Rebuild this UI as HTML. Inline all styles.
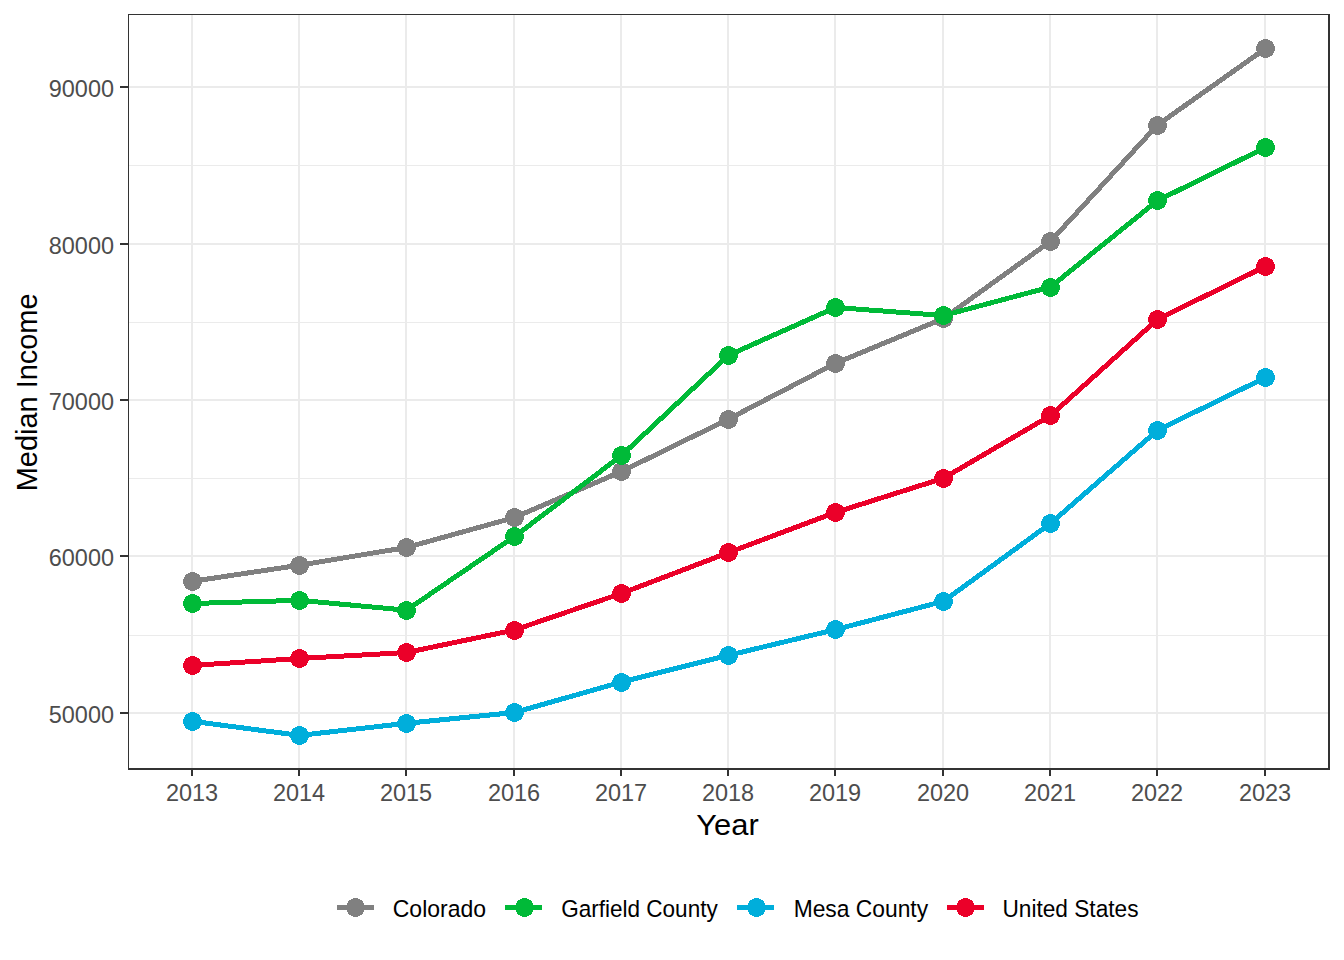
<!DOCTYPE html>
<html><head><meta charset="utf-8"><style>
html,body{margin:0;padding:0;background:#fff;overflow:hidden;width:1344px;height:960px;}
svg{display:block;}
text{font-family:"Liberation Sans",sans-serif;}
</style></head><body>
<svg width="1344" height="960" viewBox="0 0 1344 960">
<rect x="0" y="0" width="1344" height="960" fill="#fff"/>
<g shape-rendering="crispEdges"><rect x="129" y="165" width="1199" height="1" fill="#EBEBEB"/><rect x="129" y="322" width="1199" height="1" fill="#EBEBEB"/><rect x="129" y="478" width="1199" height="1" fill="#EBEBEB"/><rect x="129" y="635" width="1199" height="1" fill="#EBEBEB"/><rect x="129" y="86" width="1199" height="2" fill="#EBEBEB"/><rect x="129" y="243" width="1199" height="2" fill="#EBEBEB"/><rect x="129" y="399" width="1199" height="2" fill="#EBEBEB"/><rect x="129" y="555" width="1199" height="2" fill="#EBEBEB"/><rect x="129" y="712" width="1199" height="2" fill="#EBEBEB"/><rect x="191" y="15" width="2" height="753" fill="#EBEBEB"/><rect x="298" y="15" width="2" height="753" fill="#EBEBEB"/><rect x="405" y="15" width="2" height="753" fill="#EBEBEB"/><rect x="513" y="15" width="2" height="753" fill="#EBEBEB"/><rect x="620" y="15" width="2" height="753" fill="#EBEBEB"/><rect x="727" y="15" width="2" height="753" fill="#EBEBEB"/><rect x="834" y="15" width="2" height="753" fill="#EBEBEB"/><rect x="942" y="15" width="2" height="753" fill="#EBEBEB"/><rect x="1049" y="15" width="2" height="753" fill="#EBEBEB"/><rect x="1156" y="15" width="2" height="753" fill="#EBEBEB"/><rect x="1264" y="15" width="2" height="753" fill="#EBEBEB"/></g>
<polyline points="192.5,581.3 299.5,565.2 406.5,547.5 514.5,517.5 621.5,471.5 728.5,419.1 835.5,363.3 943.5,318.5 1050.5,241.3 1157.5,125.0 1265.5,48.5" fill="none" stroke="#808080" stroke-width="5" stroke-linejoin="round" stroke-linecap="round" shape-rendering="crispEdges"/>
<polyline points="192.5,603.5 299.5,600.3 406.5,610.2 514.5,536.5 621.5,455.5 728.5,355.3 835.5,307.5 943.5,315.5 1050.5,287.0 1157.5,200.6 1265.5,147.5" fill="none" stroke="#00BA38" stroke-width="5" stroke-linejoin="round" stroke-linecap="round" shape-rendering="crispEdges"/>
<polyline points="192.5,721.3 299.5,735.4 406.5,723.3 514.5,712.5 621.5,682.0 728.5,655.3 835.5,629.6 943.5,601.3 1050.5,523.4 1157.5,430.3 1265.5,377.5" fill="none" stroke="#00AEDB" stroke-width="5" stroke-linejoin="round" stroke-linecap="round" shape-rendering="crispEdges"/>
<polyline points="192.5,665.4 299.5,658.5 406.5,652.5 514.5,630.0 621.5,593.4 728.5,552.6 835.5,512.4 943.5,478.2 1050.5,415.6 1157.5,319.3 1265.5,266.4" fill="none" stroke="#EB0029" stroke-width="5" stroke-linejoin="round" stroke-linecap="round" shape-rendering="crispEdges"/>
<path d="M190 572h5v1h-5zM188 573h9v1h-9zM186 574h13v1h-13zM185 575h15v1h-15zM185 576h15v1h-15zM184 577h17v1h-17zM184 578h17v1h-17zM183 579h19v1h-19zM183 580h19v1h-19zM183 581h19v1h-19zM183 582h19v1h-19zM183 583h19v1h-19zM184 584h17v1h-17zM184 585h17v1h-17zM185 586h15v1h-15zM185 587h15v1h-15zM186 588h13v1h-13zM188 589h9v1h-9zM190 590h5v1h-5zM297 556h5v1h-5zM295 557h9v1h-9zM293 558h13v1h-13zM292 559h15v1h-15zM292 560h15v1h-15zM291 561h17v1h-17zM291 562h17v1h-17zM290 563h19v1h-19zM290 564h19v1h-19zM290 565h19v1h-19zM290 566h19v1h-19zM290 567h19v1h-19zM291 568h17v1h-17zM291 569h17v1h-17zM292 570h15v1h-15zM292 571h15v1h-15zM293 572h13v1h-13zM295 573h9v1h-9zM297 574h5v1h-5zM404 538h5v1h-5zM402 539h9v1h-9zM400 540h13v1h-13zM399 541h15v1h-15zM399 542h15v1h-15zM398 543h17v1h-17zM398 544h17v1h-17zM397 545h19v1h-19zM397 546h19v1h-19zM397 547h19v1h-19zM397 548h19v1h-19zM397 549h19v1h-19zM398 550h17v1h-17zM398 551h17v1h-17zM399 552h15v1h-15zM399 553h15v1h-15zM400 554h13v1h-13zM402 555h9v1h-9zM404 556h5v1h-5zM512 508h5v1h-5zM510 509h9v1h-9zM508 510h13v1h-13zM507 511h15v1h-15zM507 512h15v1h-15zM506 513h17v1h-17zM506 514h17v1h-17zM505 515h19v1h-19zM505 516h19v1h-19zM505 517h19v1h-19zM505 518h19v1h-19zM505 519h19v1h-19zM506 520h17v1h-17zM506 521h17v1h-17zM507 522h15v1h-15zM507 523h15v1h-15zM508 524h13v1h-13zM510 525h9v1h-9zM512 526h5v1h-5zM619 462h5v1h-5zM617 463h9v1h-9zM615 464h13v1h-13zM614 465h15v1h-15zM614 466h15v1h-15zM613 467h17v1h-17zM613 468h17v1h-17zM612 469h19v1h-19zM612 470h19v1h-19zM612 471h19v1h-19zM612 472h19v1h-19zM612 473h19v1h-19zM613 474h17v1h-17zM613 475h17v1h-17zM614 476h15v1h-15zM614 477h15v1h-15zM615 478h13v1h-13zM617 479h9v1h-9zM619 480h5v1h-5zM726 410h5v1h-5zM724 411h9v1h-9zM722 412h13v1h-13zM721 413h15v1h-15zM721 414h15v1h-15zM720 415h17v1h-17zM720 416h17v1h-17zM719 417h19v1h-19zM719 418h19v1h-19zM719 419h19v1h-19zM719 420h19v1h-19zM719 421h19v1h-19zM720 422h17v1h-17zM720 423h17v1h-17zM721 424h15v1h-15zM721 425h15v1h-15zM722 426h13v1h-13zM724 427h9v1h-9zM726 428h5v1h-5zM833 354h5v1h-5zM831 355h9v1h-9zM829 356h13v1h-13zM828 357h15v1h-15zM828 358h15v1h-15zM827 359h17v1h-17zM827 360h17v1h-17zM826 361h19v1h-19zM826 362h19v1h-19zM826 363h19v1h-19zM826 364h19v1h-19zM826 365h19v1h-19zM827 366h17v1h-17zM827 367h17v1h-17zM828 368h15v1h-15zM828 369h15v1h-15zM829 370h13v1h-13zM831 371h9v1h-9zM833 372h5v1h-5zM941 309h5v1h-5zM939 310h9v1h-9zM937 311h13v1h-13zM936 312h15v1h-15zM936 313h15v1h-15zM935 314h17v1h-17zM935 315h17v1h-17zM934 316h19v1h-19zM934 317h19v1h-19zM934 318h19v1h-19zM934 319h19v1h-19zM934 320h19v1h-19zM935 321h17v1h-17zM935 322h17v1h-17zM936 323h15v1h-15zM936 324h15v1h-15zM937 325h13v1h-13zM939 326h9v1h-9zM941 327h5v1h-5zM1048 232h5v1h-5zM1046 233h9v1h-9zM1044 234h13v1h-13zM1043 235h15v1h-15zM1043 236h15v1h-15zM1042 237h17v1h-17zM1042 238h17v1h-17zM1041 239h19v1h-19zM1041 240h19v1h-19zM1041 241h19v1h-19zM1041 242h19v1h-19zM1041 243h19v1h-19zM1042 244h17v1h-17zM1042 245h17v1h-17zM1043 246h15v1h-15zM1043 247h15v1h-15zM1044 248h13v1h-13zM1046 249h9v1h-9zM1048 250h5v1h-5zM1155 116h5v1h-5zM1153 117h9v1h-9zM1151 118h13v1h-13zM1150 119h15v1h-15zM1150 120h15v1h-15zM1149 121h17v1h-17zM1149 122h17v1h-17zM1148 123h19v1h-19zM1148 124h19v1h-19zM1148 125h19v1h-19zM1148 126h19v1h-19zM1148 127h19v1h-19zM1149 128h17v1h-17zM1149 129h17v1h-17zM1150 130h15v1h-15zM1150 131h15v1h-15zM1151 132h13v1h-13zM1153 133h9v1h-9zM1155 134h5v1h-5zM1263 39h5v1h-5zM1261 40h9v1h-9zM1259 41h13v1h-13zM1258 42h15v1h-15zM1258 43h15v1h-15zM1257 44h17v1h-17zM1257 45h17v1h-17zM1256 46h19v1h-19zM1256 47h19v1h-19zM1256 48h19v1h-19zM1256 49h19v1h-19zM1256 50h19v1h-19zM1257 51h17v1h-17zM1257 52h17v1h-17zM1258 53h15v1h-15zM1258 54h15v1h-15zM1259 55h13v1h-13zM1261 56h9v1h-9zM1263 57h5v1h-5z" fill="#808080" shape-rendering="crispEdges"/>
<path d="M190 594h5v1h-5zM188 595h9v1h-9zM186 596h13v1h-13zM185 597h15v1h-15zM185 598h15v1h-15zM184 599h17v1h-17zM184 600h17v1h-17zM183 601h19v1h-19zM183 602h19v1h-19zM183 603h19v1h-19zM183 604h19v1h-19zM183 605h19v1h-19zM184 606h17v1h-17zM184 607h17v1h-17zM185 608h15v1h-15zM185 609h15v1h-15zM186 610h13v1h-13zM188 611h9v1h-9zM190 612h5v1h-5zM297 591h5v1h-5zM295 592h9v1h-9zM293 593h13v1h-13zM292 594h15v1h-15zM292 595h15v1h-15zM291 596h17v1h-17zM291 597h17v1h-17zM290 598h19v1h-19zM290 599h19v1h-19zM290 600h19v1h-19zM290 601h19v1h-19zM290 602h19v1h-19zM291 603h17v1h-17zM291 604h17v1h-17zM292 605h15v1h-15zM292 606h15v1h-15zM293 607h13v1h-13zM295 608h9v1h-9zM297 609h5v1h-5zM404 601h5v1h-5zM402 602h9v1h-9zM400 603h13v1h-13zM399 604h15v1h-15zM399 605h15v1h-15zM398 606h17v1h-17zM398 607h17v1h-17zM397 608h19v1h-19zM397 609h19v1h-19zM397 610h19v1h-19zM397 611h19v1h-19zM397 612h19v1h-19zM398 613h17v1h-17zM398 614h17v1h-17zM399 615h15v1h-15zM399 616h15v1h-15zM400 617h13v1h-13zM402 618h9v1h-9zM404 619h5v1h-5zM512 527h5v1h-5zM510 528h9v1h-9zM508 529h13v1h-13zM507 530h15v1h-15zM507 531h15v1h-15zM506 532h17v1h-17zM506 533h17v1h-17zM505 534h19v1h-19zM505 535h19v1h-19zM505 536h19v1h-19zM505 537h19v1h-19zM505 538h19v1h-19zM506 539h17v1h-17zM506 540h17v1h-17zM507 541h15v1h-15zM507 542h15v1h-15zM508 543h13v1h-13zM510 544h9v1h-9zM512 545h5v1h-5zM619 446h5v1h-5zM617 447h9v1h-9zM615 448h13v1h-13zM614 449h15v1h-15zM614 450h15v1h-15zM613 451h17v1h-17zM613 452h17v1h-17zM612 453h19v1h-19zM612 454h19v1h-19zM612 455h19v1h-19zM612 456h19v1h-19zM612 457h19v1h-19zM613 458h17v1h-17zM613 459h17v1h-17zM614 460h15v1h-15zM614 461h15v1h-15zM615 462h13v1h-13zM617 463h9v1h-9zM619 464h5v1h-5zM726 346h5v1h-5zM724 347h9v1h-9zM722 348h13v1h-13zM721 349h15v1h-15zM721 350h15v1h-15zM720 351h17v1h-17zM720 352h17v1h-17zM719 353h19v1h-19zM719 354h19v1h-19zM719 355h19v1h-19zM719 356h19v1h-19zM719 357h19v1h-19zM720 358h17v1h-17zM720 359h17v1h-17zM721 360h15v1h-15zM721 361h15v1h-15zM722 362h13v1h-13zM724 363h9v1h-9zM726 364h5v1h-5zM833 298h5v1h-5zM831 299h9v1h-9zM829 300h13v1h-13zM828 301h15v1h-15zM828 302h15v1h-15zM827 303h17v1h-17zM827 304h17v1h-17zM826 305h19v1h-19zM826 306h19v1h-19zM826 307h19v1h-19zM826 308h19v1h-19zM826 309h19v1h-19zM827 310h17v1h-17zM827 311h17v1h-17zM828 312h15v1h-15zM828 313h15v1h-15zM829 314h13v1h-13zM831 315h9v1h-9zM833 316h5v1h-5zM941 306h5v1h-5zM939 307h9v1h-9zM937 308h13v1h-13zM936 309h15v1h-15zM936 310h15v1h-15zM935 311h17v1h-17zM935 312h17v1h-17zM934 313h19v1h-19zM934 314h19v1h-19zM934 315h19v1h-19zM934 316h19v1h-19zM934 317h19v1h-19zM935 318h17v1h-17zM935 319h17v1h-17zM936 320h15v1h-15zM936 321h15v1h-15zM937 322h13v1h-13zM939 323h9v1h-9zM941 324h5v1h-5zM1048 278h5v1h-5zM1046 279h9v1h-9zM1044 280h13v1h-13zM1043 281h15v1h-15zM1043 282h15v1h-15zM1042 283h17v1h-17zM1042 284h17v1h-17zM1041 285h19v1h-19zM1041 286h19v1h-19zM1041 287h19v1h-19zM1041 288h19v1h-19zM1041 289h19v1h-19zM1042 290h17v1h-17zM1042 291h17v1h-17zM1043 292h15v1h-15zM1043 293h15v1h-15zM1044 294h13v1h-13zM1046 295h9v1h-9zM1048 296h5v1h-5zM1155 191h5v1h-5zM1153 192h9v1h-9zM1151 193h13v1h-13zM1150 194h15v1h-15zM1150 195h15v1h-15zM1149 196h17v1h-17zM1149 197h17v1h-17zM1148 198h19v1h-19zM1148 199h19v1h-19zM1148 200h19v1h-19zM1148 201h19v1h-19zM1148 202h19v1h-19zM1149 203h17v1h-17zM1149 204h17v1h-17zM1150 205h15v1h-15zM1150 206h15v1h-15zM1151 207h13v1h-13zM1153 208h9v1h-9zM1155 209h5v1h-5zM1263 138h5v1h-5zM1261 139h9v1h-9zM1259 140h13v1h-13zM1258 141h15v1h-15zM1258 142h15v1h-15zM1257 143h17v1h-17zM1257 144h17v1h-17zM1256 145h19v1h-19zM1256 146h19v1h-19zM1256 147h19v1h-19zM1256 148h19v1h-19zM1256 149h19v1h-19zM1257 150h17v1h-17zM1257 151h17v1h-17zM1258 152h15v1h-15zM1258 153h15v1h-15zM1259 154h13v1h-13zM1261 155h9v1h-9zM1263 156h5v1h-5z" fill="#00BA38" shape-rendering="crispEdges"/>
<path d="M190 712h5v1h-5zM188 713h9v1h-9zM186 714h13v1h-13zM185 715h15v1h-15zM185 716h15v1h-15zM184 717h17v1h-17zM184 718h17v1h-17zM183 719h19v1h-19zM183 720h19v1h-19zM183 721h19v1h-19zM183 722h19v1h-19zM183 723h19v1h-19zM184 724h17v1h-17zM184 725h17v1h-17zM185 726h15v1h-15zM185 727h15v1h-15zM186 728h13v1h-13zM188 729h9v1h-9zM190 730h5v1h-5zM297 726h5v1h-5zM295 727h9v1h-9zM293 728h13v1h-13zM292 729h15v1h-15zM292 730h15v1h-15zM291 731h17v1h-17zM291 732h17v1h-17zM290 733h19v1h-19zM290 734h19v1h-19zM290 735h19v1h-19zM290 736h19v1h-19zM290 737h19v1h-19zM291 738h17v1h-17zM291 739h17v1h-17zM292 740h15v1h-15zM292 741h15v1h-15zM293 742h13v1h-13zM295 743h9v1h-9zM297 744h5v1h-5zM404 714h5v1h-5zM402 715h9v1h-9zM400 716h13v1h-13zM399 717h15v1h-15zM399 718h15v1h-15zM398 719h17v1h-17zM398 720h17v1h-17zM397 721h19v1h-19zM397 722h19v1h-19zM397 723h19v1h-19zM397 724h19v1h-19zM397 725h19v1h-19zM398 726h17v1h-17zM398 727h17v1h-17zM399 728h15v1h-15zM399 729h15v1h-15zM400 730h13v1h-13zM402 731h9v1h-9zM404 732h5v1h-5zM512 703h5v1h-5zM510 704h9v1h-9zM508 705h13v1h-13zM507 706h15v1h-15zM507 707h15v1h-15zM506 708h17v1h-17zM506 709h17v1h-17zM505 710h19v1h-19zM505 711h19v1h-19zM505 712h19v1h-19zM505 713h19v1h-19zM505 714h19v1h-19zM506 715h17v1h-17zM506 716h17v1h-17zM507 717h15v1h-15zM507 718h15v1h-15zM508 719h13v1h-13zM510 720h9v1h-9zM512 721h5v1h-5zM619 673h5v1h-5zM617 674h9v1h-9zM615 675h13v1h-13zM614 676h15v1h-15zM614 677h15v1h-15zM613 678h17v1h-17zM613 679h17v1h-17zM612 680h19v1h-19zM612 681h19v1h-19zM612 682h19v1h-19zM612 683h19v1h-19zM612 684h19v1h-19zM613 685h17v1h-17zM613 686h17v1h-17zM614 687h15v1h-15zM614 688h15v1h-15zM615 689h13v1h-13zM617 690h9v1h-9zM619 691h5v1h-5zM726 646h5v1h-5zM724 647h9v1h-9zM722 648h13v1h-13zM721 649h15v1h-15zM721 650h15v1h-15zM720 651h17v1h-17zM720 652h17v1h-17zM719 653h19v1h-19zM719 654h19v1h-19zM719 655h19v1h-19zM719 656h19v1h-19zM719 657h19v1h-19zM720 658h17v1h-17zM720 659h17v1h-17zM721 660h15v1h-15zM721 661h15v1h-15zM722 662h13v1h-13zM724 663h9v1h-9zM726 664h5v1h-5zM833 620h5v1h-5zM831 621h9v1h-9zM829 622h13v1h-13zM828 623h15v1h-15zM828 624h15v1h-15zM827 625h17v1h-17zM827 626h17v1h-17zM826 627h19v1h-19zM826 628h19v1h-19zM826 629h19v1h-19zM826 630h19v1h-19zM826 631h19v1h-19zM827 632h17v1h-17zM827 633h17v1h-17zM828 634h15v1h-15zM828 635h15v1h-15zM829 636h13v1h-13zM831 637h9v1h-9zM833 638h5v1h-5zM941 592h5v1h-5zM939 593h9v1h-9zM937 594h13v1h-13zM936 595h15v1h-15zM936 596h15v1h-15zM935 597h17v1h-17zM935 598h17v1h-17zM934 599h19v1h-19zM934 600h19v1h-19zM934 601h19v1h-19zM934 602h19v1h-19zM934 603h19v1h-19zM935 604h17v1h-17zM935 605h17v1h-17zM936 606h15v1h-15zM936 607h15v1h-15zM937 608h13v1h-13zM939 609h9v1h-9zM941 610h5v1h-5zM1048 514h5v1h-5zM1046 515h9v1h-9zM1044 516h13v1h-13zM1043 517h15v1h-15zM1043 518h15v1h-15zM1042 519h17v1h-17zM1042 520h17v1h-17zM1041 521h19v1h-19zM1041 522h19v1h-19zM1041 523h19v1h-19zM1041 524h19v1h-19zM1041 525h19v1h-19zM1042 526h17v1h-17zM1042 527h17v1h-17zM1043 528h15v1h-15zM1043 529h15v1h-15zM1044 530h13v1h-13zM1046 531h9v1h-9zM1048 532h5v1h-5zM1155 421h5v1h-5zM1153 422h9v1h-9zM1151 423h13v1h-13zM1150 424h15v1h-15zM1150 425h15v1h-15zM1149 426h17v1h-17zM1149 427h17v1h-17zM1148 428h19v1h-19zM1148 429h19v1h-19zM1148 430h19v1h-19zM1148 431h19v1h-19zM1148 432h19v1h-19zM1149 433h17v1h-17zM1149 434h17v1h-17zM1150 435h15v1h-15zM1150 436h15v1h-15zM1151 437h13v1h-13zM1153 438h9v1h-9zM1155 439h5v1h-5zM1263 368h5v1h-5zM1261 369h9v1h-9zM1259 370h13v1h-13zM1258 371h15v1h-15zM1258 372h15v1h-15zM1257 373h17v1h-17zM1257 374h17v1h-17zM1256 375h19v1h-19zM1256 376h19v1h-19zM1256 377h19v1h-19zM1256 378h19v1h-19zM1256 379h19v1h-19zM1257 380h17v1h-17zM1257 381h17v1h-17zM1258 382h15v1h-15zM1258 383h15v1h-15zM1259 384h13v1h-13zM1261 385h9v1h-9zM1263 386h5v1h-5z" fill="#00AEDB" shape-rendering="crispEdges"/>
<path d="M190 656h5v1h-5zM188 657h9v1h-9zM186 658h13v1h-13zM185 659h15v1h-15zM185 660h15v1h-15zM184 661h17v1h-17zM184 662h17v1h-17zM183 663h19v1h-19zM183 664h19v1h-19zM183 665h19v1h-19zM183 666h19v1h-19zM183 667h19v1h-19zM184 668h17v1h-17zM184 669h17v1h-17zM185 670h15v1h-15zM185 671h15v1h-15zM186 672h13v1h-13zM188 673h9v1h-9zM190 674h5v1h-5zM297 649h5v1h-5zM295 650h9v1h-9zM293 651h13v1h-13zM292 652h15v1h-15zM292 653h15v1h-15zM291 654h17v1h-17zM291 655h17v1h-17zM290 656h19v1h-19zM290 657h19v1h-19zM290 658h19v1h-19zM290 659h19v1h-19zM290 660h19v1h-19zM291 661h17v1h-17zM291 662h17v1h-17zM292 663h15v1h-15zM292 664h15v1h-15zM293 665h13v1h-13zM295 666h9v1h-9zM297 667h5v1h-5zM404 643h5v1h-5zM402 644h9v1h-9zM400 645h13v1h-13zM399 646h15v1h-15zM399 647h15v1h-15zM398 648h17v1h-17zM398 649h17v1h-17zM397 650h19v1h-19zM397 651h19v1h-19zM397 652h19v1h-19zM397 653h19v1h-19zM397 654h19v1h-19zM398 655h17v1h-17zM398 656h17v1h-17zM399 657h15v1h-15zM399 658h15v1h-15zM400 659h13v1h-13zM402 660h9v1h-9zM404 661h5v1h-5zM512 621h5v1h-5zM510 622h9v1h-9zM508 623h13v1h-13zM507 624h15v1h-15zM507 625h15v1h-15zM506 626h17v1h-17zM506 627h17v1h-17zM505 628h19v1h-19zM505 629h19v1h-19zM505 630h19v1h-19zM505 631h19v1h-19zM505 632h19v1h-19zM506 633h17v1h-17zM506 634h17v1h-17zM507 635h15v1h-15zM507 636h15v1h-15zM508 637h13v1h-13zM510 638h9v1h-9zM512 639h5v1h-5zM619 584h5v1h-5zM617 585h9v1h-9zM615 586h13v1h-13zM614 587h15v1h-15zM614 588h15v1h-15zM613 589h17v1h-17zM613 590h17v1h-17zM612 591h19v1h-19zM612 592h19v1h-19zM612 593h19v1h-19zM612 594h19v1h-19zM612 595h19v1h-19zM613 596h17v1h-17zM613 597h17v1h-17zM614 598h15v1h-15zM614 599h15v1h-15zM615 600h13v1h-13zM617 601h9v1h-9zM619 602h5v1h-5zM726 543h5v1h-5zM724 544h9v1h-9zM722 545h13v1h-13zM721 546h15v1h-15zM721 547h15v1h-15zM720 548h17v1h-17zM720 549h17v1h-17zM719 550h19v1h-19zM719 551h19v1h-19zM719 552h19v1h-19zM719 553h19v1h-19zM719 554h19v1h-19zM720 555h17v1h-17zM720 556h17v1h-17zM721 557h15v1h-15zM721 558h15v1h-15zM722 559h13v1h-13zM724 560h9v1h-9zM726 561h5v1h-5zM833 503h5v1h-5zM831 504h9v1h-9zM829 505h13v1h-13zM828 506h15v1h-15zM828 507h15v1h-15zM827 508h17v1h-17zM827 509h17v1h-17zM826 510h19v1h-19zM826 511h19v1h-19zM826 512h19v1h-19zM826 513h19v1h-19zM826 514h19v1h-19zM827 515h17v1h-17zM827 516h17v1h-17zM828 517h15v1h-15zM828 518h15v1h-15zM829 519h13v1h-13zM831 520h9v1h-9zM833 521h5v1h-5zM941 469h5v1h-5zM939 470h9v1h-9zM937 471h13v1h-13zM936 472h15v1h-15zM936 473h15v1h-15zM935 474h17v1h-17zM935 475h17v1h-17zM934 476h19v1h-19zM934 477h19v1h-19zM934 478h19v1h-19zM934 479h19v1h-19zM934 480h19v1h-19zM935 481h17v1h-17zM935 482h17v1h-17zM936 483h15v1h-15zM936 484h15v1h-15zM937 485h13v1h-13zM939 486h9v1h-9zM941 487h5v1h-5zM1048 406h5v1h-5zM1046 407h9v1h-9zM1044 408h13v1h-13zM1043 409h15v1h-15zM1043 410h15v1h-15zM1042 411h17v1h-17zM1042 412h17v1h-17zM1041 413h19v1h-19zM1041 414h19v1h-19zM1041 415h19v1h-19zM1041 416h19v1h-19zM1041 417h19v1h-19zM1042 418h17v1h-17zM1042 419h17v1h-17zM1043 420h15v1h-15zM1043 421h15v1h-15zM1044 422h13v1h-13zM1046 423h9v1h-9zM1048 424h5v1h-5zM1155 310h5v1h-5zM1153 311h9v1h-9zM1151 312h13v1h-13zM1150 313h15v1h-15zM1150 314h15v1h-15zM1149 315h17v1h-17zM1149 316h17v1h-17zM1148 317h19v1h-19zM1148 318h19v1h-19zM1148 319h19v1h-19zM1148 320h19v1h-19zM1148 321h19v1h-19zM1149 322h17v1h-17zM1149 323h17v1h-17zM1150 324h15v1h-15zM1150 325h15v1h-15zM1151 326h13v1h-13zM1153 327h9v1h-9zM1155 328h5v1h-5zM1263 257h5v1h-5zM1261 258h9v1h-9zM1259 259h13v1h-13zM1258 260h15v1h-15zM1258 261h15v1h-15zM1257 262h17v1h-17zM1257 263h17v1h-17zM1256 264h19v1h-19zM1256 265h19v1h-19zM1256 266h19v1h-19zM1256 267h19v1h-19zM1256 268h19v1h-19zM1257 269h17v1h-17zM1257 270h17v1h-17zM1258 271h15v1h-15zM1258 272h15v1h-15zM1259 273h13v1h-13zM1261 274h9v1h-9zM1263 275h5v1h-5z" fill="#EB0029" shape-rendering="crispEdges"/>
<g shape-rendering="crispEdges"><rect x="128" y="14" width="1202" height="1" fill="#333333"/><rect x="128" y="14" width="1" height="756" fill="#333333"/><rect x="1328" y="14" width="2" height="756" fill="#333333"/><rect x="128" y="768" width="1202" height="2" fill="#333333"/><rect x="120" y="86" width="8" height="2" fill="#333333"/><rect x="120" y="243" width="8" height="2" fill="#333333"/><rect x="120" y="399" width="8" height="2" fill="#333333"/><rect x="120" y="555" width="8" height="2" fill="#333333"/><rect x="120" y="712" width="8" height="2" fill="#333333"/><rect x="191" y="770" width="2" height="6" fill="#333333"/><rect x="298" y="770" width="2" height="6" fill="#333333"/><rect x="405" y="770" width="2" height="6" fill="#333333"/><rect x="513" y="770" width="2" height="6" fill="#333333"/><rect x="620" y="770" width="2" height="6" fill="#333333"/><rect x="727" y="770" width="2" height="6" fill="#333333"/><rect x="834" y="770" width="2" height="6" fill="#333333"/><rect x="942" y="770" width="2" height="6" fill="#333333"/><rect x="1049" y="770" width="2" height="6" fill="#333333"/><rect x="1156" y="770" width="2" height="6" fill="#333333"/><rect x="1264" y="770" width="2" height="6" fill="#333333"/></g>
<text x="114" y="97" font-size="23.47" fill="#4D4D4D" text-anchor="end">90000</text><text x="114" y="254" font-size="23.47" fill="#4D4D4D" text-anchor="end">80000</text><text x="114" y="410" font-size="23.47" fill="#4D4D4D" text-anchor="end">70000</text><text x="114" y="566" font-size="23.47" fill="#4D4D4D" text-anchor="end">60000</text><text x="114" y="723" font-size="23.47" fill="#4D4D4D" text-anchor="end">50000</text>
<text x="192" y="801" font-size="23.47" fill="#4D4D4D" text-anchor="middle">2013</text><text x="299" y="801" font-size="23.47" fill="#4D4D4D" text-anchor="middle">2014</text><text x="406" y="801" font-size="23.47" fill="#4D4D4D" text-anchor="middle">2015</text><text x="514" y="801" font-size="23.47" fill="#4D4D4D" text-anchor="middle">2016</text><text x="621" y="801" font-size="23.47" fill="#4D4D4D" text-anchor="middle">2017</text><text x="728" y="801" font-size="23.47" fill="#4D4D4D" text-anchor="middle">2018</text><text x="835" y="801" font-size="23.47" fill="#4D4D4D" text-anchor="middle">2019</text><text x="943" y="801" font-size="23.47" fill="#4D4D4D" text-anchor="middle">2020</text><text x="1050" y="801" font-size="23.47" fill="#4D4D4D" text-anchor="middle">2021</text><text x="1157" y="801" font-size="23.47" fill="#4D4D4D" text-anchor="middle">2022</text><text x="1265" y="801" font-size="23.47" fill="#4D4D4D" text-anchor="middle">2023</text>
<text transform="translate(727.55,835) scale(1.053,1)" x="0" y="0" font-size="29.33" fill="#000" text-anchor="middle">Year</text>
<text transform="translate(37.2,392.4) rotate(-90) scale(0.987,1)" x="0" y="0" font-size="29.33" fill="#000" text-anchor="middle">Median Income</text>
<rect x="337" y="905" width="37" height="5" fill="#808080" shape-rendering="crispEdges"/><path d="M353 898h5v1h-5zM351 899h9v1h-9zM349 900h13v1h-13zM348 901h15v1h-15zM348 902h15v1h-15zM347 903h17v1h-17zM347 904h17v1h-17zM347 905h17v1h-17zM347 906h17v1h-17zM347 907h17v1h-17zM347 908h17v1h-17zM347 909h17v1h-17zM347 910h17v1h-17zM347 911h17v1h-17zM348 912h15v1h-15zM348 913h15v1h-15zM349 914h13v1h-13zM351 915h9v1h-9zM353 916h5v1h-5z" fill="#808080" shape-rendering="crispEdges"/><text transform="translate(392.78,917) scale(0.9796,1)" x="0" y="0" font-size="23.47" fill="#000">Colorado</text>
<rect x="505" y="905" width="37" height="5" fill="#00BA38" shape-rendering="crispEdges"/><path d="M522 898h5v1h-5zM520 899h9v1h-9zM518 900h13v1h-13zM517 901h15v1h-15zM517 902h15v1h-15zM516 903h17v1h-17zM516 904h17v1h-17zM516 905h17v1h-17zM516 906h17v1h-17zM516 907h17v1h-17zM516 908h17v1h-17zM516 909h17v1h-17zM516 910h17v1h-17zM516 911h17v1h-17zM517 912h15v1h-15zM517 913h15v1h-15zM518 914h13v1h-13zM520 915h9v1h-9zM522 916h5v1h-5z" fill="#00BA38" shape-rendering="crispEdges"/><text transform="translate(561.14,917) scale(0.9605,1)" x="0" y="0" font-size="23.47" fill="#000">Garfield County</text>
<rect x="737" y="905" width="37" height="5" fill="#00AEDB" shape-rendering="crispEdges"/><path d="M754 898h5v1h-5zM752 899h9v1h-9zM750 900h13v1h-13zM749 901h15v1h-15zM749 902h15v1h-15zM748 903h17v1h-17zM748 904h17v1h-17zM748 905h17v1h-17zM748 906h17v1h-17zM748 907h17v1h-17zM748 908h17v1h-17zM748 909h17v1h-17zM748 910h17v1h-17zM748 911h17v1h-17zM749 912h15v1h-15zM749 913h15v1h-15zM750 914h13v1h-13zM752 915h9v1h-9zM754 916h5v1h-5z" fill="#00AEDB" shape-rendering="crispEdges"/><text transform="translate(793.65,917) scale(0.9728,1)" x="0" y="0" font-size="23.47" fill="#000">Mesa County</text>
<rect x="947" y="905" width="37" height="5" fill="#EB0029" shape-rendering="crispEdges"/><path d="M963 898h5v1h-5zM961 899h9v1h-9zM959 900h13v1h-13zM958 901h15v1h-15zM958 902h15v1h-15zM957 903h17v1h-17zM957 904h17v1h-17zM957 905h17v1h-17zM957 906h17v1h-17zM957 907h17v1h-17zM957 908h17v1h-17zM957 909h17v1h-17zM957 910h17v1h-17zM957 911h17v1h-17zM958 912h15v1h-15zM958 913h15v1h-15zM959 914h13v1h-13zM961 915h9v1h-9zM963 916h5v1h-5z" fill="#EB0029" shape-rendering="crispEdges"/><text transform="translate(1002.42,917) scale(0.966,1)" x="0" y="0" font-size="23.47" fill="#000">United States</text>
</svg>
</body></html>
